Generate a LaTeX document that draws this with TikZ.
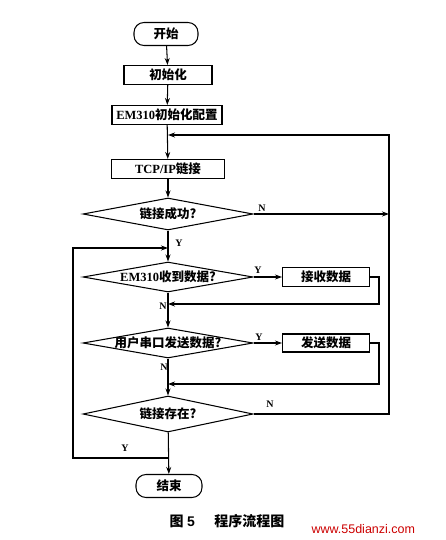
\documentclass[tikz,border=0pt]{standalone}
\usepackage{fontspec}
\setmainfont{Liberation Serif}
\newfontfamily\cjk{Noto Sans CJK SC}
\newfontfamily\wmfont{Liberation Sans}
\usetikzlibrary{shapes.geometric,arrows.meta}
\begin{document}
\begin{tikzpicture}[x=1pt,y=-1pt,
  line width=1.05pt,
  arr/.style={-{Stealth[length=7pt,width=5pt]}},
  boxn/.style={draw,minimum height=19pt,inner sep=0pt,font=\fontsize{12.5}{13}\selectfont\bfseries},
  term/.style={draw,rounded corners=10pt,minimum height=23pt,inner sep=0pt,font=\fontsize{12.5}{13}\selectfont\bfseries},
  dia/.style={draw,diamond,inner sep=0pt,minimum width=170pt},
  dtext/.style={font=\fontsize{12.5}{13}\selectfont\bfseries},
  yn/.style={font=\fontsize{10}{11}\selectfont\bfseries,inner sep=1pt}
]
\useasboundingbox (0,0) rectangle (446,540);
\node[term,minimum width=64pt] (start) at (166,34) {\cjk 开始};
\node[boxn,minimum width=88pt] (init) at (168,75) {\cjk 初始化};
\node[boxn,minimum width=110pt] (cfg) at (167,115) {EM310{\cjk 初始化配置}};
\node[boxn,minimum width=113pt] (tcp) at (168,169) {TCP/IP{\cjk 链接}};
\node[dia,minimum height=32pt] (d1) at (168,214) {};
\node[dtext] at (d1.center) {\cjk 链接成功?};
\node[dia,minimum height=30pt] (d2) at (168,277) {};
\node[dtext] at (d2.center) {EM310{\cjk 收到数据?}};
\node[boxn,minimum width=87pt] (recv) at (326,277) {\cjk 接收数据};
\node[dia,minimum height=30pt] (d3) at (168,343) {};
\node[dtext] at (d3.center) {\cjk 用户串口发送数据?};
\node[boxn,minimum width=87pt,minimum height=18pt] (send) at (326,343) {\cjk 发送数据};
\node[dia,minimum height=36pt] (d4) at (168,414) {};
\node[dtext] at (d4.center) {\cjk 链接存在?};
\node[term,minimum width=66pt] (stop) at (169,486) {\cjk 结束};

\coordinate (jtop) at (168,135);
\coordinate (rtop) at (389,135);
\coordinate (rmid) at (389,214);
\coordinate (rbot) at (389,414);
\coordinate (jloop) at (168,248);
\coordinate (lt) at (73,248);
\coordinate (lb) at (73,458);
\coordinate (jlb) at (168,458);
\coordinate (r1a) at (379,277);
\coordinate (r1b) at (379,304);
\coordinate (j1) at (168,304);
\coordinate (r2a) at (379,343);
\coordinate (r2b) at (379,384);
\coordinate (j2) at (168,384);

\draw[arr] (start) -- (init);
\draw[arr] (init) -- (cfg);
\draw[arr] (cfg) -- (tcp);
\draw[arr] (tcp) -- (d1);
\draw[arr] (d1) -- (d2);
\draw[arr] (d2) -- (d3);
\draw[arr] (d3) -- (d4);
\draw[arr] (d4) -- (stop);
\draw[arr] (d1.east) -- (rmid);
\draw[arr] (d4.east) -- (rbot) -- (rtop) -- (jtop);
\draw[arr] (d2.east) -- (recv.west);
\draw[arr] (d3.east) -- (send.west);
\draw[arr] (recv.east) -- (r1a) -- (r1b) -- (j1);
\draw[arr] (send.east) -- (r2a) -- (r2b) -- (j2);
\draw[arr] (jlb) -- (lb) -- (lt) -- (jloop);

\node[yn] at (262,208) {N};
\node[yn] at (179,243) {Y};
\node[yn] at (258,270) {Y};
\node[yn] at (163,306) {N};
\node[yn] at (259,337) {Y};
\node[yn] at (164,367) {N};
\node[yn] at (270,404) {N};
\node[yn] at (125,448) {Y};

\node[font=\fontsize{14}{16}\selectfont\bfseries,anchor=west,inner sep=0pt] (cap) at (169,521) {{\cjk 图} \wmfont 5\hspace{1.4em}{\cjk 程序流程图}};
\node[font=\wmfont\fontsize{12.5}{14}\selectfont,text=red!80!black,anchor=west,inner sep=0pt] (wm) at (311,529) {www.55dianzi.com};
\end{tikzpicture}
\end{document}
